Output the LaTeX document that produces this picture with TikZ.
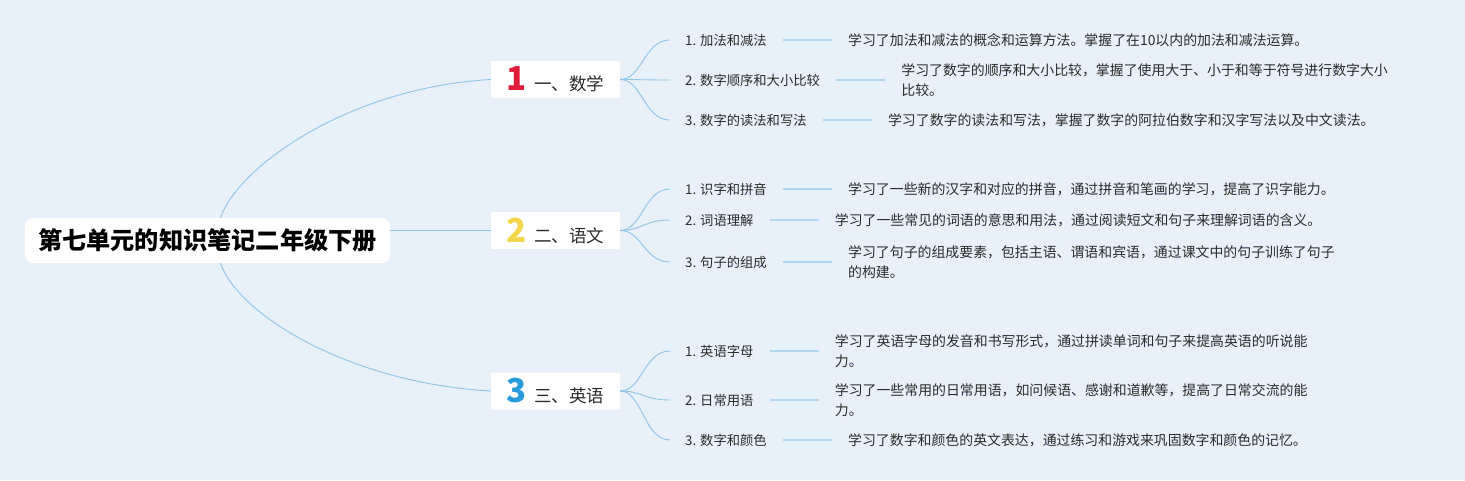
\documentclass[tikz,border=0pt]{standalone}
\usepackage{fontspec}
\setmainfont{Noto Sans CJK SC}
\usetikzlibrary{positioning}

\definecolor{bgblue}{HTML}{E8F0F9}
\definecolor{linkblue}{HTML}{8FC4E6}
\definecolor{stubblue}{HTML}{B0D7EF}
\definecolor{numred}{HTML}{E01E3C}
\definecolor{numyellow}{HTML}{F5D54C}
\definecolor{numblue}{HTML}{2A9BDA}
\definecolor{inkgray}{HTML}{2B2B2B}

\newcommand\topicnumfont{\fontsize{33}{33}\selectfont\bfseries}

\tikzset{
  rootbox/.style={rectangle, fill=white, rounded corners=8pt,
    minimum width=365pt, minimum height=45pt, inner sep=0pt,
    font=\fontsize{24.2}{28}\selectfont\bfseries},
  topicbox/.style={rectangle, fill=white, rounded corners=1pt,
    minimum width=129pt, minimum height=37pt, inner sep=0pt,
    font=\fontsize{17.5}{20}\selectfont, text=inkgray},
  itemlabel/.style={anchor=west, inner xsep=15pt, inner ysep=0pt,
    font=\fontsize{13.3}{16}\selectfont, text=inkgray},
  itemtext/.style={right=66pt of #1, inner sep=0pt, align=left,
    font=\fontsize{13.9}{20}\selectfont, text=inkgray},
  branch/.style={draw=linkblue, line width=0.9pt},
  stub/.style={draw=stubblue, line width=2pt, shorten <=1pt, shorten >=16pt},
}

\begin{document}
\begin{tikzpicture}[x=1pt, y=-1pt]
  \fill[bgblue] (0,0) rectangle (1465,480);
  \useasboundingbox (0,0) rectangle (1465,480);

  \node[rootbox] (root) at (207.5,240.5) {第七单元的知识笔记二年级下册};

  \node[topicbox] (math) at (555.5,79.5)
    {{\topicnumfont\textcolor{numred}{1}}\hspace{7pt}一、数学};
  \node[topicbox] (chn) at (555.5,230.5)
    {{\topicnumfont\textcolor{numyellow}{2}}\hspace{7pt}二、语文};
  \node[topicbox] (eng) at (555.5,391)
    {{\topicnumfont\textcolor{numblue}{3}}\hspace{7pt}三、英语};

  \node[itemlabel] (m1) at (670,40) {1. 加法和减法};
  \node[itemlabel] (m2) at (670,80) {2. 数字顺序和大小比较};
  \node[itemlabel] (m3) at (670,120) {3. 数字的读法和写法};
  \node[itemtext=m1] (m1t) {学习了加法和减法的概念和运算方法。掌握了在10以内的加法和减法运算。};
  \node[itemtext=m2] (m2t) {学习了数字的顺序和大小比较，掌握了使用大于、小于和等于符号进行数字大小\\比较。};
  \node[itemtext=m3] (m3t) {学习了数字的读法和写法，掌握了数字的阿拉伯数字和汉字写法以及中文读法。};

  \node[itemlabel] (c1) at (670,189) {1. 识字和拼音};
  \node[itemlabel] (c2) at (670,220) {2. 词语理解};
  \node[itemlabel] (c3) at (670,262) {3. 句子的组成};
  \node[itemtext=c1] (c1t) {学习了一些新的汉字和对应的拼音，通过拼音和笔画的学习，提高了识字能力。};
  \node[itemtext=c2] (c2t) {学习了一些常见的词语的意思和用法，通过阅读短文和句子来理解词语的含义。};
  \node[itemtext=c3] (c3t) {学习了句子的组成要素，包括主语、谓语和宾语，通过课文中的句子训练了句子\\的构建。};

  \node[itemlabel] (e1) at (670,351) {1. 英语字母};
  \node[itemlabel] (e2) at (670,400) {2. 日常用语};
  \node[itemlabel] (e3) at (670,440) {3. 数字和颜色};
  \node[itemtext=e1] (e1t) {学习了英语字母的发音和书写形式，通过拼读单词和句子来提高英语的听说能\\力。};
  \node[itemtext=e2] (e2t) {学习了一些常用的日常用语，如问候语、感谢和道歉等，提高了日常交流的能\\力。};
  \node[itemtext=e3] (e3t) {学习了数字和颜色的英文表达，通过练习和游戏来巩固数字和颜色的记忆。};

  \draw[branch] ([xshift=13pt]root.north) .. controls +(18,-52) and +(-141,8) .. (math.west);
  \draw[branch] (chn.west -| root.east) -- (chn.west);
  \draw[branch] ([xshift=13pt]root.south) .. controls +(18,52) and +(-141,-8) .. (eng.west);

  \foreach \t/\a/\b/\c in {math/m1/m2/m3, chn/c1/c2/c3, eng/e1/e2/e3} {
    \draw[branch] (\t.east) .. controls +(22,0) and +(-26,0) .. (\a.west);
    \draw[branch] (\t.east) .. controls +(22,0) and +(-26,0) .. (\b.west);
    \draw[branch] (\t.east) .. controls +(22,0) and +(-26,0) .. (\c.west);
    \draw[stub] (\a) -- (\a t);
    \draw[stub] (\b) -- (\b t);
    \draw[stub] (\c) -- (\c t);
  }
\end{tikzpicture}
\end{document}
